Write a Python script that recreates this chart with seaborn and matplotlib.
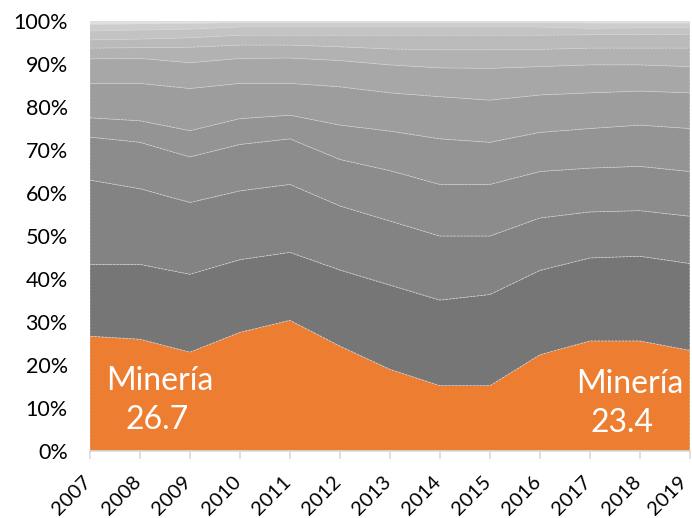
import matplotlib
matplotlib.use("Agg")
import matplotlib.pyplot as plt
import matplotlib.transforms as mtransforms
import seaborn as sns
import numpy as np

years = list(range(2007, 2020))

mineria = [26.7, 26.0, 23.0, 27.6, 30.4, 24.4, 19.0, 15.2, 15.2, 22.4, 25.6, 25.6, 23.4]
sector2 = [16.7, 17.4, 18.1, 16.9, 15.8, 17.7, 19.6, 19.9, 21.2, 19.6, 19.3, 19.7, 20.2]
sector3 = [19.6, 17.6, 16.7, 16.0, 15.8, 14.9, 14.9, 14.9, 13.6, 12.2, 10.7, 10.6, 11.0]
sector4 = [10.0, 10.8, 10.6, 10.8, 10.6, 10.8, 11.7, 12.0, 12.0, 10.8, 10.2, 10.3, 10.4]
sector5 = [4.5, 5.0, 6.1, 6.0, 5.5, 8.0, 9.2, 10.6, 9.8, 9.1, 9.2, 9.6, 10.0]
sector6 = [8.0, 8.7, 9.8, 8.2, 7.4, 8.9, 8.9, 9.8, 9.8, 8.7, 8.3, 7.9, 8.3]
sector7 = [5.7, 5.8, 6.0, 5.8, 5.9, 6.1, 6.5, 6.7, 7.4, 6.6, 6.5, 6.1, 6.1]
sector8 = [2.5, 2.5, 3.6, 3.1, 3.0, 3.2, 3.7, 4.2, 4.3, 4.0, 3.9, 3.9, 4.3]
sector9 = [1.9, 2.0, 2.2, 2.3, 2.3, 2.7, 3.2, 3.4, 3.4, 3.3, 3.1, 3.2, 3.2]
sector10 = [2.1, 2.1, 2.0, 1.9, 1.9, 1.9, 1.9, 1.9, 1.9, 1.9, 1.5, 1.5, 1.5]
sector11 = [1.5, 1.4, 1.3, 1.0, 1.0, 1.0, 1.0, 1.0, 1.0, 1.0, 1.2, 1.1, 1.1]
sector12 = [0.8, 0.7, 0.6, 0.4, 0.4, 0.4, 0.4, 0.4, 0.4, 0.4, 0.5, 0.5, 0.5]

series = [mineria, sector2, sector3, sector4, sector5, sector6, sector7,
          sector8, sector9, sector10, sector11, sector12]
colors = ['#ED7D31', '#767676', '#838383', '#8c8c8c', '#949494', '#9d9d9d',
          '#a7a7a7', '#b2b2b2', '#bababa', '#c3c3c3', '#cdcdcd', '#e0e0e0']

first_label = ("Minería", "26.7")
last_label = ("Minería", "23.4")
y_ticks = list(range(0, 101, 10))
y_ticklabels = [f"{v}%" for v in y_ticks]

sns.set_style("white")
plt.rcParams['font.family'] = ['Lato', 'DejaVu Sans']

fig = plt.figure(figsize=(6.92, 5.18), dpi=100)
ax = fig.add_axes([0.130, 0.1293, 0.867, 0.8302])

polys = ax.stackplot(years, *series, colors=colors, edgecolor='#d4d4d4',
                     linewidth=0.5)
for p in polys:
    p.set_linestyle((0, (3, 2)))

ax.set_xlim(years[0], years[-1])
ax.set_ylim(0, 100)
ax.set_yticks(y_ticks)
ax.set_yticklabels(y_ticklabels)
ax.set_xticks(years)
ax.set_xticklabels([str(y) for y in years], rotation=45, ha='right',
                   rotation_mode='anchor')

for s in ['top', 'right', 'left']:
    ax.spines[s].set_visible(False)
ax.spines['bottom'].set_color('#d9d9d9')
ax.spines['bottom'].set_linewidth(1.2)
ax.tick_params(axis='x', length=6, width=1.2, color='#d9d9d9', direction='out',
               labelsize=14.5, pad=10, bottom=True)
ax.tick_params(axis='y', length=0, labelsize=15.5, pad=16)
xlabs = ax.get_xticklabels()
for i, lab in enumerate(xlabs):
    dx = -7.5 if i < len(xlabs) - 1 else -11.5
    shift = mtransforms.ScaledTranslation(dx / 100, 0, fig.dpi_scale_trans)
    lab.set_transform(lab.get_transform() + shift)
for lab in ax.get_xticklabels() + ax.get_yticklabels():
    lab.set_color('#000000')

ax.text(2008.4, 16.3, first_label[0], ha='center', va='center', fontsize=23,
        color='white')
ax.text(2008.35, 7.2, first_label[1], ha='center', va='center', fontsize=23,
        color='white')
ax.text(2017.8, 15.6, last_label[0], ha='center', va='center', fontsize=23,
        color='white')
ax.text(2017.65, 6.6, last_label[1], ha='center', va='center', fontsize=23,
        color='white')

fig.savefig("out.png", dpi=100)
